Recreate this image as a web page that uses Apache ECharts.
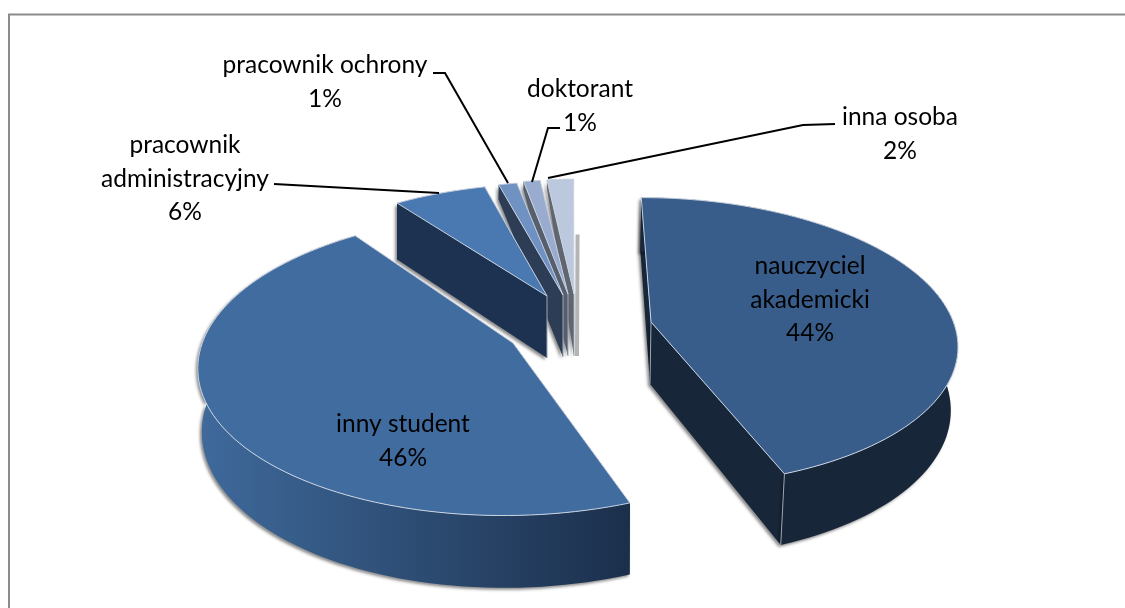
<!DOCTYPE html>
<html>
<head>
<meta charset="utf-8">
<style>html,body{margin:0;background:#fff}#main{width:1125px;height:608px}</style>
<script src="https://cdn.jsdelivr.net/npm/echarts@6/dist/echarts.min.js"></script>
</head>
<body>
<div id="main"></div>
<script>
var categories = ['nauczyciel\nakademicki', 'inny student', 'pracownik\nadministracyjny', 'pracownik ochrony', 'doktorant', 'inna osoba'];
// the labels show them rounded
var shares = [44.3, 45.7, 5.9, 1.15, 1.1, 1.85];

// look of each slice: apex on the page, radius factors, colours
var apexX = [651, 513, 547, 563, 568, 574];
var apexY = [322, 343, 296, 295, 294, 294];
var radiusX = [0.985, 1.012, 0.925, 0.93, 0.885, 0.84];
var radiusV = [0.975, 1.02, 0.87, 0.88, 0.885, 0.89];
var rimDrop = [62, 62, 62, 17, 10, 10];
var narrowing = [0.98, 0.99, 1, 1, 1, 1];
var topColor = ['#385d8a', '#416c9f', '#4a78b0', '#7092c3', '#99acd0', '#bcc8dd'];
var cutColor = ['#182639', '#1d3250', '#1d3250', '#2c3d55', '#585f6c', '#60656f'];
var sideFrom = ['#182639', '#3f6a9c', '#1d3250', '#2c3d55', '#585f6c', '#60656f'];
var sideTo = ['#182639', '#1b2f4b', '#1d3250', '#2c3d55', '#585f6c', '#60656f'];
// label centre and leader line
var labelX = [810, 403, 185, 325, 580, 900];
var labelY = [300, 441, 179, 82, 106, 134];
var leaders = [[], [],
    [[274, 184], [439, 193]],
    [[433, 73], [445, 73], [508, 183]],
    [[560, 128], [548, 128], [532, 182]],
    [[835, 124], [803, 125], [548, 178]]];
var drawOrder = [5, 4, 3, 2, 0, 1];

var VX = 570, BOTTOM_VX = 600, RX = 307, RY = 145, P = 0.14, DEPTH = 62;

// position on the page of a point on the tilted disc (perspective towards the back)
function project(i, dx, dv, drop) {
    var s = 1 / (1 + P * dv);
    var x = VX + (apexX[i] - VX + dx) * s;
    if (drop > 0) {
        x = BOTTOM_VX + (x - BOTTOM_VX) * narrowing[i];
    }
    return [x, apexY[i] - RY * dv * s + drop * s];
}

function sliceAngles() {
    var total = shares.reduce(function (a, b) { return a + b; }, 0);
    var acc = 0;
    return shares.map(function (v) {
        var from = acc / total * Math.PI * 2;
        acc += v;
        return [from, acc / total * Math.PI * 2];
    });
}
var angles = sliceAngles();

function rimPoints(i, drop, reverse) {
    var pts = [];
    var n = Math.max(6, Math.round(shares[i] * 2));
    for (var k = 0; k <= n; k++) {
        var t = angles[i][0] + (angles[i][1] - angles[i][0]) * k / n;
        pts.push(project(i, RX * radiusX[i] * Math.sin(t), radiusV[i] * Math.cos(t), drop));
    }
    return reverse ? pts.reverse() : pts;
}

function face(points, fill, shadow) {
    var style = { fill: fill };
    if (shadow) {
        style.shadowColor = 'rgba(0,0,0,0.45)';
        style.shadowBlur = 3;
        style.shadowOffsetX = -2;
        style.shadowOffsetY = 2;
    }
    return { type: 'polygon', shape: { points: points }, style: style };
}

function edge(a, b) {
    return {
        type: 'line',
        shape: { x1: a[0], y1: a[1], x2: b[0], y2: b[1] },
        style: { stroke: '#9aa6b5', lineWidth: 1 }
    };
}

function labelText(i) {
    return {
        type: 'text',
        z: 20,
        style: {
            x: labelX[i], y: labelY[i],
            text: categories[i] + '\n' + Math.round(shares[i]) + '%',
            fill: '#000',
            font: '24.5px Lato',
            lineHeight: 33.5,
            align: 'center',
            verticalAlign: 'middle'
        }
    };
}

function renderSlice(params, api) {
    var i = api.value(0);
    var apexTop = project(i, 0, 0, 0);
    var apexBottom = project(i, 0, 0, DEPTH);
    var rimTop = rimPoints(i, 0, false);
    var rimBottom = rimPoints(i, rimDrop[i], true);
    var first = rimTop[0], last = rimTop[rimTop.length - 1];
    var firstB = rimBottom[rimBottom.length - 1], lastB = rimBottom[0];
    var xs = rimTop.concat(rimBottom).map(function (p) { return p[0]; });
    var xMin = Math.min.apply(null, xs), xMax = Math.max.apply(null, xs);
    var sideFill = new echarts.graphic.LinearGradient(xMin, 0, xMax, 0, [
        { offset: 0, color: sideFrom[i] },
        { offset: 1, color: sideTo[i] }
    ], true);
    var big = i < 2;
    var firstCut = face([apexTop, first, firstB, apexBottom], cutColor[i], true);
    var lastCut = face([apexTop, last, lastB, apexBottom], cutColor[i], big);
    var side = face(rimTop.concat(rimBottom), sideFill, big);
    var children = [];
    if (i === 5) {
        // soft grey shadow on the right of the last sliver
        var end = project(i, RX * radiusX[i] * Math.sin(angles[i][1]), radiusV[i], DEPTH);
        children.push(face([[end[0] + 2, end[1]], [end[0] + 6, end[1]], [apexBottom[0] + 5, apexBottom[1]], [apexBottom[0] + 1, apexBottom[1]]], '#b4b4b4'));
    }
    // the big slices show their rim in front of the cut, the small ones show the cut
    if (big) {
        children.push(firstCut, lastCut, side);
    } else {
        children.push(lastCut, side, firstCut);
    }
    children.push(
        edge(apexTop, apexBottom),
        edge(last, lastB),
        {
            type: 'polygon',
            shape: { points: [apexTop].concat(rimTop) },
            style: { fill: topColor[i], stroke: '#c9d3e2', lineWidth: 1 }
        }
    );
    return { type: 'group', children: children };
}

var labels = [0, 1, 2, 3, 4, 5].map(labelText);
var lines = [2, 3, 4, 5].map(function (i) {
    return {
        type: 'polyline',
        z: 20,
        shape: { points: leaders[i] },
        style: { stroke: '#000', lineWidth: 2, fill: null }
    };
});

var myChart = echarts.init(document.getElementById('main'));

var option = {
    backgroundColor: '#fff',
    animation: false,
    graphic: [{
        type: 'polyline',
        z: 0,
        shape: { points: [[9, 608], [9, 14.5], [1125, 14.5]] },
        style: { fill: null, stroke: '#8c8c8c', lineWidth: 2 }
    }].concat(labels, lines),
    series: [{
        type: 'custom',
        coordinateSystem: 'none',
        renderItem: renderSlice,
        data: drawOrder.map(function (i) { return [i, shares[i]]; }),
        z: 5
    }]
};

myChart.setOption(option);
</script>
</body>
</html>
